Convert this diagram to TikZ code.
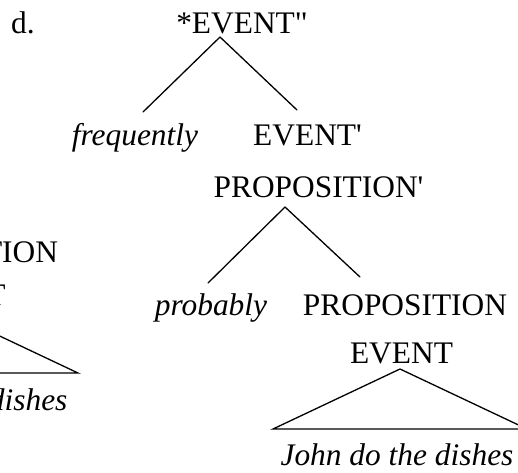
\documentclass[tikz,border=0pt]{standalone}
\usepackage{fontspec}
\setmainfont{Liberation Serif}
\usetikzlibrary{positioning}
\tikzstyle{cat} = [inner sep=0pt, anchor=base]
\tikzstyle{word} = [inner sep=0pt, anchor=base, font={\fontsize{31.4pt}{36}\selectfont\itshape}]
\tikzstyle{branch} = [line width=1.3pt, line cap=round]
\tikzset{
  font={\fontsize{31.4pt}{36}\selectfont}}

\begin{document}
\begin{tikzpicture}[x=1pt, y=-1pt]
    \useasboundingbox (0,0) rectangle (518,472);
    \clip (0,0) rectangle (518,472);

    % tree (c), cut off at the left edge
    \node (propc) [cat] at (-44,262) {PROPOSITION};
    \node (eventc) [cat] at (-46,305) {EVENT};
    \node (dishesc) [word] at (-49,410) {John do the dishes};
    \coordinate (c1) at (-49,313);
    \coordinate (c2) at (-176,373);
    \coordinate (c3) at (78,373);

    % tree (d)
    \node (label) [cat, anchor=base west] at (11,33) {d.};
    \node (eventtwo) [cat] at (242,33) {*EVENT\textquotedbl};
    \node (frequently) [word] at (135,145) {frequently};
    \node (eventone) [cat] at (307.5,145) {EVENT\textquotesingle};
    \node (propone) [cat] at (318.5,197) {PROPOSITION\textquotesingle};
    \node (probably) [word] at (211,315) {probably};
    \node (prop) [cat] at (405,315) {PROPOSITION};
    \node (event) [cat] at (401.5,363) {EVENT};
    \node (dishes) [word] at (397,465) {John do the dishes};

    \coordinate (d1) at (220,37);
    \coordinate (d2) at (143,112);
    \coordinate (d3) at (297,110);
    \coordinate (d4) at (285,207);
    \coordinate (d5) at (208,283);
    \coordinate (d6) at (360,277);
    \coordinate (d7) at (400,369);
    \coordinate (d8) at (273,429);
    \coordinate (d9) at (527,429);

    \draw [branch] (c2) -- (c1) -- (c3) -- cycle;

    \draw [branch] (d1) -- (d2);
    \draw [branch] (d1) -- (d3);
    \draw [branch] (d4) -- (d5);
    \draw [branch] (d4) -- (d6);
    \draw [branch] (d8) -- (d7) -- (d9) -- cycle;
\end{tikzpicture}
\end{document}
